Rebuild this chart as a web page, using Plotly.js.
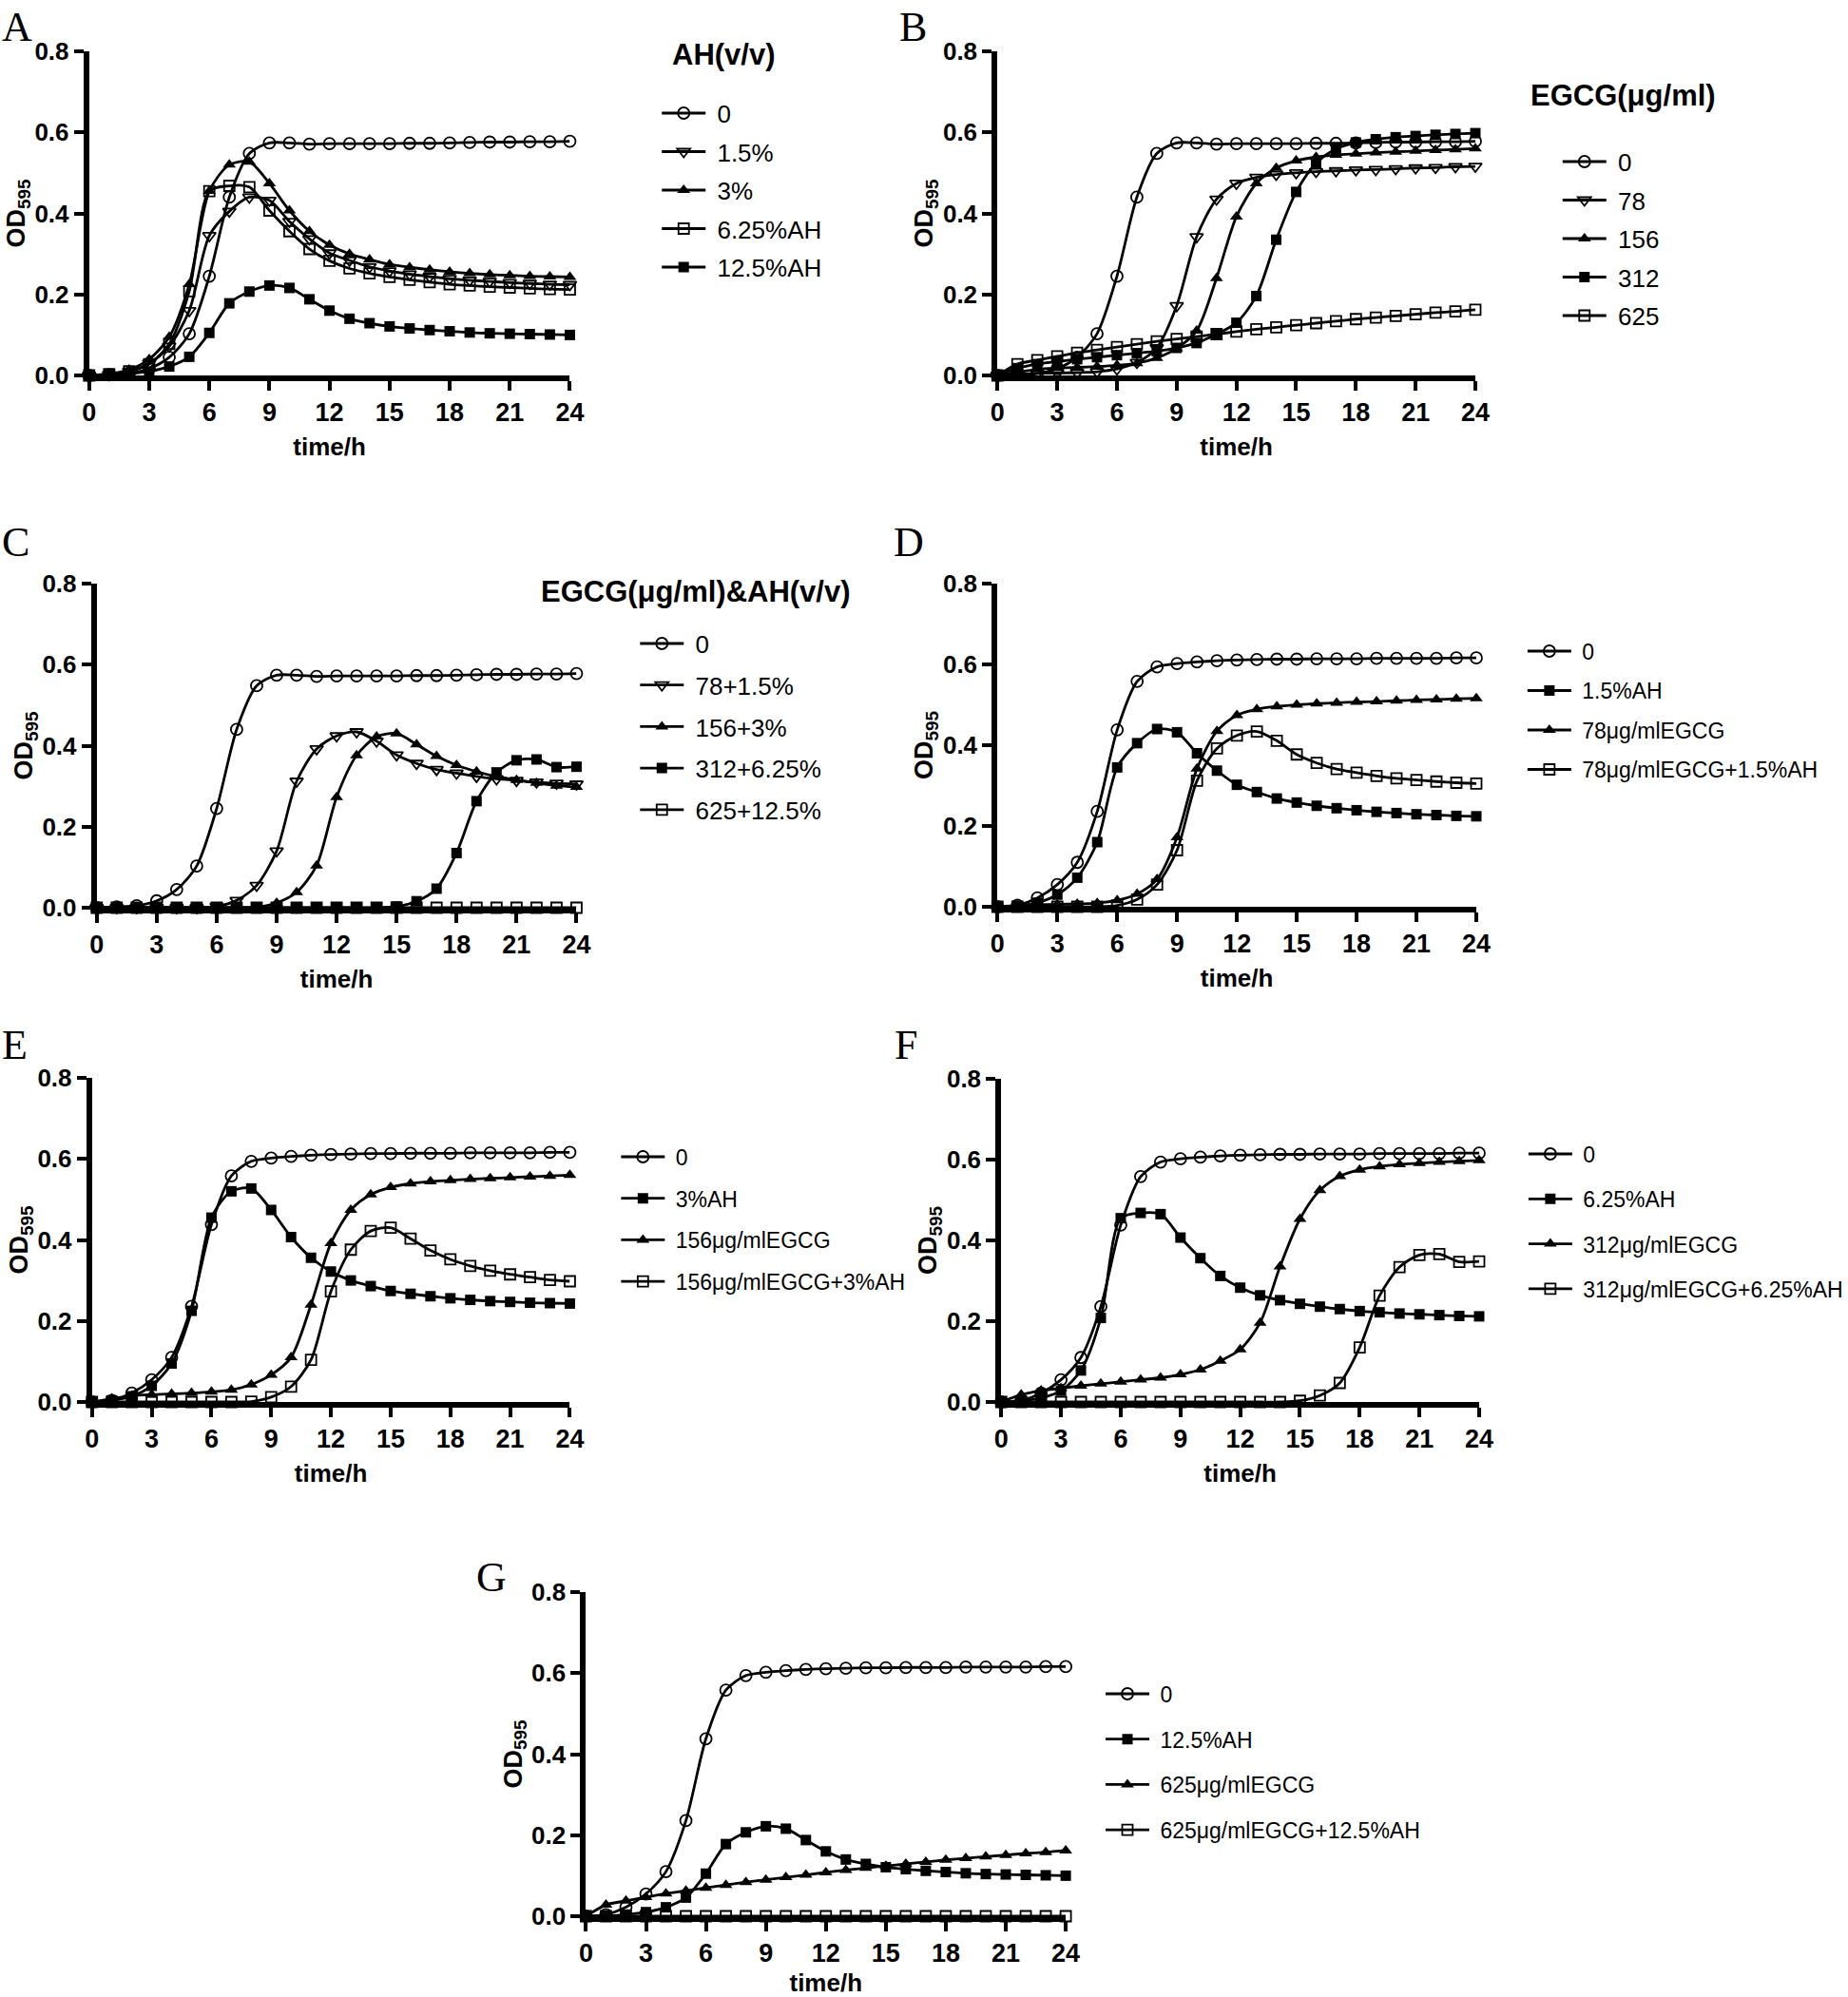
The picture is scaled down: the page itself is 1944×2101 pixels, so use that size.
<!DOCTYPE html>
<html>
<head>
<meta charset="utf-8">
<script src="https://cdn.plot.ly/plotly-3.0.1.min.js"></script>
<style>body{margin:0;background:#fff}#chart{width:1944px;height:2101px}</style>
</head>
<body>
<div id="chart"></div>
<script>
// ---------- data (OD595 readings, hourly 0..24 h) ----------
const hours = [0,1,2,3,4,5,6,7,8,9,10,11,12,13,14,15,16,17,18,19,20,21,22,23,24];
const xTicks = [0,3,6,9,12,15,18,21,24];
const yTicks = [0,0.2,0.4,0.6,0.8];

const ctrl1  = [0,0.002,0.005,0.017,0.045,0.103,0.245,0.44,0.548,0.574,0.574,0.571,0.572,0.572,0.572,0.572,0.573,0.573,0.574,0.575,0.576,0.576,0.577,0.577,0.578];
const ctrl2  = [0,0.004,0.022,0.055,0.11,0.236,0.438,0.558,0.594,0.602,0.606,0.609,0.611,0.612,0.613,0.613,0.614,0.614,0.614,0.615,0.615,0.615,0.615,0.616,0.616];

const ah15   = [0,0.002,0.01,0.03,0.072,0.16,0.345,0.405,0.44,0.432,0.38,0.337,0.302,0.284,0.268,0.258,0.25,0.244,0.239,0.235,0.232,0.229,0.227,0.225,0.224];
const ah3    = [0,0.004,0.014,0.04,0.095,0.225,0.455,0.52,0.527,0.474,0.407,0.356,0.322,0.3,0.286,0.274,0.267,0.261,0.256,0.252,0.249,0.247,0.245,0.244,0.243];
const ah625  = [0,0.003,0.01,0.028,0.078,0.208,0.455,0.468,0.465,0.407,0.356,0.312,0.283,0.264,0.252,0.243,0.236,0.23,0.225,0.222,0.219,0.217,0.215,0.213,0.212];
const ah125  = [0,0.001,0.004,0.01,0.022,0.046,0.105,0.178,0.207,0.222,0.216,0.188,0.16,0.14,0.129,0.121,0.116,0.112,0.109,0.106,0.104,0.103,0.102,0.101,0.1];

const egcg78  = [0,0.003,0.005,0.006,0.007,0.009,0.016,0.032,0.068,0.172,0.342,0.435,0.474,0.489,0.496,0.5,0.503,0.505,0.507,0.508,0.51,0.512,0.513,0.515,0.516];
const egcg156 = [0,0.008,0.015,0.018,0.02,0.022,0.025,0.03,0.043,0.067,0.11,0.24,0.392,0.474,0.512,0.53,0.539,0.544,0.547,0.55,0.552,0.554,0.556,0.558,0.56];
const egcg312 = [0,0.018,0.028,0.034,0.04,0.045,0.05,0.055,0.06,0.068,0.08,0.102,0.13,0.196,0.335,0.453,0.524,0.559,0.575,0.583,0.588,0.591,0.594,0.596,0.598];
const egcg625 = [0,0.028,0.038,0.047,0.056,0.063,0.07,0.077,0.084,0.09,0.096,0.102,0.108,0.114,0.119,0.124,0.129,0.134,0.139,0.143,0.147,0.151,0.155,0.158,0.162];

const mix78  = [0,0,0,0,0,0,0.003,0.018,0.055,0.14,0.312,0.392,0.424,0.434,0.411,0.377,0.356,0.341,0.332,0.324,0.318,0.314,0.31,0.307,0.305];
const mix156 = [0,0,0,0,0,0,0,0,0.001,0.012,0.038,0.104,0.273,0.376,0.422,0.43,0.403,0.374,0.352,0.336,0.324,0.315,0.308,0.301,0.298];
const mix312 = [0,0,0,0,0,0,0,0,0,0,0,0,0,0,0,0.003,0.016,0.047,0.135,0.263,0.334,0.364,0.366,0.347,0.348];
const mix625 = [0,0,0,0,0,0,0,0,0,0,0,0,0,0,0,0,0,0,0,0,0,0,0,0,0];

// series names per panel
const namesA = ['0','1.5%','3%','6.25%AH','12.5%AH'];
const namesB = ['0','78','156','312','625'];
const namesC = ['0','78+1.5%','156+3%','312+6.25%','625+12.5%'];
const namesD = ['0','1.5%AH','78μg/mlEGCG','78μg/mlEGCG+1.5%AH'];
const namesE = ['0','3%AH','156μg/mlEGCG','156μg/mlEGCG+3%AH'];
const namesF = ['0','6.25%AH','312μg/mlEGCG','312μg/mlEGCG+6.25%AH'];
const namesG = ['0','12.5%AH','625μg/mlEGCG','625μg/mlEGCG+12.5%AH'];

// ---------- styling ----------
const W = 1944, H = 2101;
const MK = {
  circ:  {symbol:'circle-open', size:12, open:true},
  tdown: {symbol:'triangle-down-open', size:12, open:true},
  tup:   {symbol:'triangle-up', size:12, open:false},
  sqo:   {symbol:'square-open', size:11, open:true},
  sqf:   {symbol:'square', size:11, open:false}
};

const panels = [
  {letter:'A', lp:[18,28], box:[94,601,54,395], data:[ctrl1,ah15,ah3,ah625,ah125], names:namesA,
   mk:['circ','tdown','tup','sqo','sqf'], leg:{left:693, first:119, step:40.5, font:26},
   ltitle:{text:'AH(v/v)', left:707, y:57}},
  {letter:'B', lp:[963,28], box:[1052,1556,54,395], data:[ctrl1,egcg78,egcg156,egcg312,egcg625], names:namesB,
   mk:['circ','tdown','tup','sqf','sqo'], leg:{left:1643, first:170, step:40.5, font:26},
   ltitle:{text:'EGCG(μg/ml)', left:1612, y:100}},
  {letter:'C', lp:[17,570], box:[102,608,614,955], data:[ctrl1,mix78,mix156,mix312,mix625], names:namesC,
   mk:['circ','tdown','tup','sqf','sqo'], leg:{left:670, first:677, step:43.7, font:26},
   ltitle:{text:'EGCG(μg/ml)&AH(v/v)', left:568, y:622}},
  {letter:'D', lp:[958,570], box:[1052,1557,614,954], data:[ctrl2,ah15,egcg78,mix78], names:namesD,
   mk:['circ','sqf','tup','sqo'], leg:{left:1606, first:685, step:41.5, font:23}},
  {letter:'E', lp:[16,1099], box:[97,601,1134,1475], data:[ctrl2,ah3,egcg156,mix156], names:namesE,
   mk:['circ','sqf','tup','sqo'], leg:{left:650, first:1217, step:43.7, font:23}},
  {letter:'F', lp:[955,1099], box:[1056,1560,1135,1475], data:[ctrl2,ah625,egcg312,mix312], names:namesF,
   mk:['circ','sqf','tup','sqo'], leg:{left:1607, first:1214, step:47.3, font:23}},
  {letter:'G', lp:[518,1659], box:[618,1124,1675,2016], data:[ctrl2,ah125,egcg625,mix625], names:namesG,
   mk:['circ','sqf','tup','sqo'], leg:{left:1161, first:1782, step:47.7, font:23}}
];

const FONT = 'Liberation Sans, Arial, sans-serif';
const traces = [];
const layout = {
  width:W, height:H, margin:{l:0,r:0,t:0,b:0},
  paper_bgcolor:'#fff', plot_bgcolor:'rgba(0,0,0,0)',
  font:{family:FONT, color:'#000'},
  showlegend:true, annotations:[]
};

panels.forEach((p, k) => {
  const n = k + 1;
  const sfx = n === 1 ? '' : String(n);
  const xa = 'xaxis' + sfx, ya = 'yaxis' + sfx, xr = 'x' + sfx, yr = 'y' + sfx, lg = 'legend' + sfx;
  const [l, r, t, b] = p.box;

  p.data.forEach((arr, i) => {
    const m = MK[p.mk[i]];
    traces.push({
      type:'scatter', mode:'lines+markers', x:hours, y:arr, name:'\u00a0' + p.names[i],
      xaxis:xr, yaxis:yr, legend:lg, legendgroup:p.letter + i, cliponaxis:false,
      line:{color:'#000', width:2.8, shape:'spline', smoothing:0.8},
      marker:{symbol:m.symbol, size:m.size, color:'#000', line:{color:'#000', width:m.open ? 1.8 : 0}},
      hoverinfo:'skip'
    });
  });

  layout[xa] = {
    domain:[l / W, r / W], anchor:yr, range:[0, 24], tickmode:'array', tickvals:xTicks,
    ticks:'outside', ticklen:10, tickwidth:4, tickcolor:'#000',
    showline:true, linewidth:6, linecolor:'#000', showgrid:false, zeroline:false,
    tickfont:{family:FONT, size:27, weight:700, color:'#000'},
    title:{text:'<b>time/h</b>', font:{family:FONT, size:26, color:'#000'}, standoff:14},
    layer:'below traces', automargin:false, fixedrange:true
  };
  layout[ya] = {
    domain:[1 - b / H, 1 - t / H], anchor:xr, range:[0, 0.8], tickmode:'array', tickvals:yTicks,
    tickformat:'.1f', ticks:'outside', ticklen:10, tickwidth:4, tickcolor:'#000',
    showline:true, linewidth:6, linecolor:'#000', showgrid:false, zeroline:false,
    tickfont:{family:FONT, size:26, weight:700, color:'#000'},
    title:{text:'<b>OD<sub>595</sub></b>', font:{family:FONT, size:27, color:'#000'}, standoff:4},
    layer:'below traces', automargin:false, fixedrange:true
  };

  const f = p.leg.font, ih = 1.3 * f + 3;
  layout[lg] = {
    x:p.leg.left / W, y:1 - (p.leg.first - 5 - ih / 2) / H, xanchor:'left', yanchor:'top',
    bgcolor:'rgba(0,0,0,0)', borderwidth:0, traceorder:'grouped',
    tracegroupgap:Math.max(0, p.leg.step - ih), itemwidth:46, valign:'middle',
    font:{family:FONT, size:f, color:'#000'},
    itemclick:false, itemdoubleclick:false
  };

  layout.annotations.push({
    xref:'paper', yref:'paper', x:p.lp[0] / W, y:1 - p.lp[1] / H, xanchor:'center', yanchor:'middle',
    text:p.letter, showarrow:false,
    font:{family:'Liberation Serif, Times New Roman, serif', size:44, color:'#000'}
  });
  if (p.ltitle) {
    layout.annotations.push({
      xref:'paper', yref:'paper', x:p.ltitle.left / W, y:1 - p.ltitle.y / H, xanchor:'left', yanchor:'middle',
      text:'<b>' + p.ltitle.text.replace('&', '&amp;') + '</b>', showarrow:false,
      font:{family:FONT, size:31, color:'#000'}
    });
  }
});

Plotly.newPlot('chart', traces, layout, {staticPlot:true, displayModeBar:false});
</script>
</body>
</html>
